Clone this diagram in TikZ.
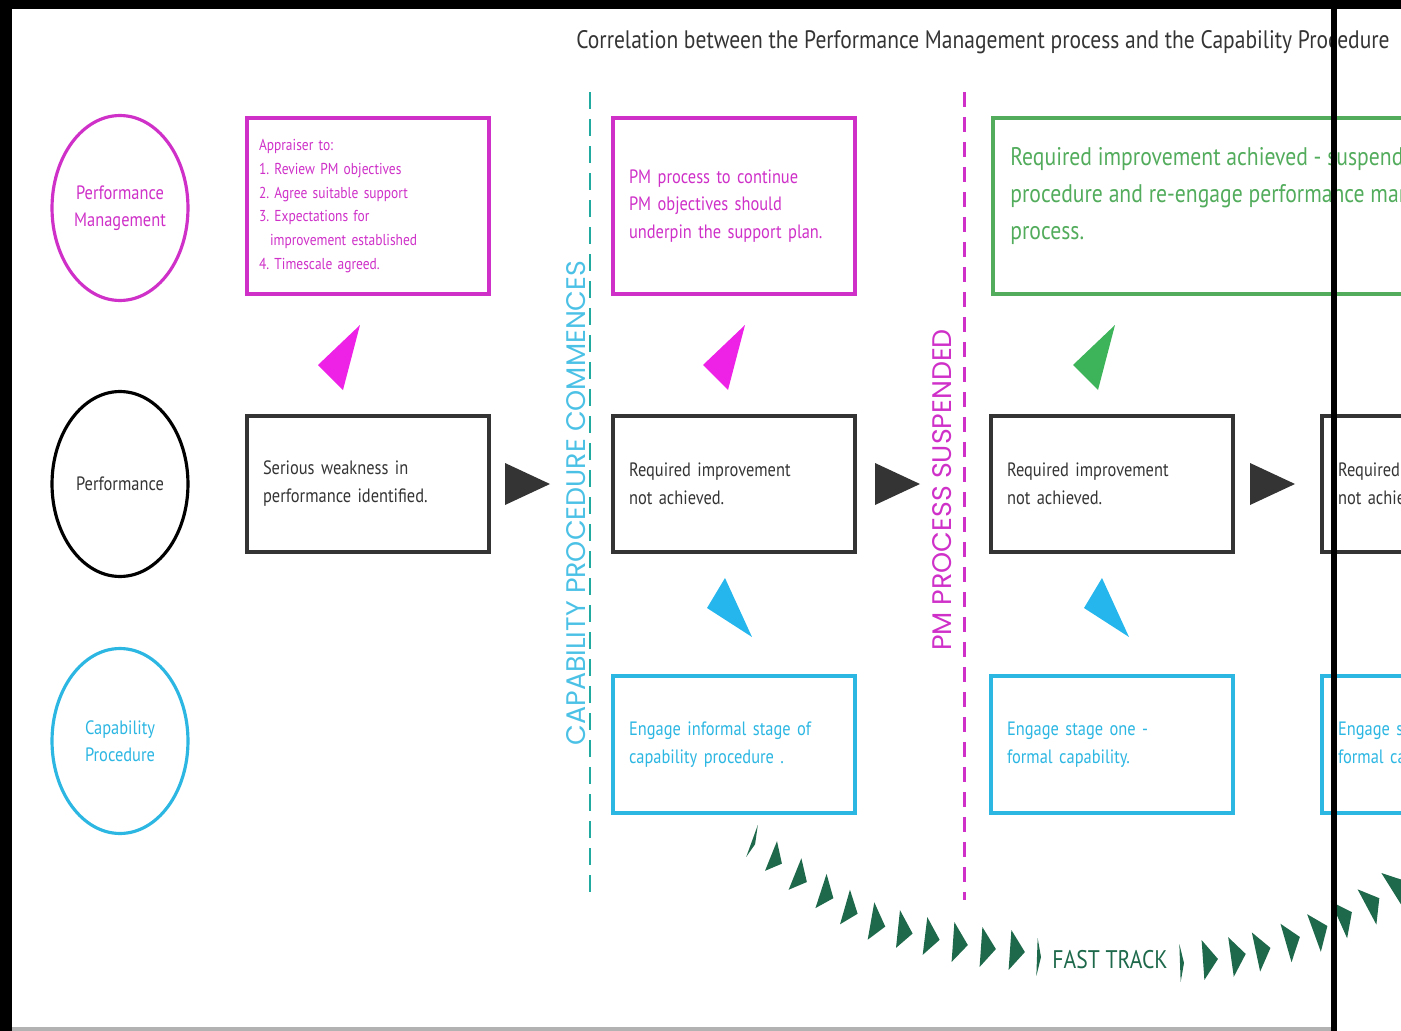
\documentclass[tikz,border=0pt]{standalone}
\usepackage{fontspec}
\setmainfont{PT Sans}[FakeStretch=0.85]
\newfontfamily\capsfont{Poppins}
\usepackage{xcolor}
\usetikzlibrary{positioning, shapes.geometric}
\definecolor{pmmag}{RGB}{206,48,200}
\definecolor{pmtri}{RGB}{238,34,230}
\definecolor{capcyan}{RGB}{44,182,226}
\definecolor{captri}{RGB}{36,182,236}
\definecolor{capteal}{RGB}{32,170,160}
\definecolor{okgreen}{RGB}{82,172,92}
\definecolor{oktri}{RGB}{62,180,90}
\definecolor{darkgrey}{RGB}{52,52,52}
\definecolor{ftgreen}{RGB}{30,105,75}
\tikzset{
    box/.style={draw, line width=2.2pt, text width=4.2cm, align=left, minimum width=4.84cm, inner sep=0pt, font=\fontsize{11}{15.9}\selectfont},
    pmbox/.style={box, draw=pmmag, text=pmmag, minimum height=3.52cm},
    perfbox/.style={box, draw=darkgrey, text=darkgrey, minimum height=2.72cm},
    capbox/.style={box, draw=capcyan, text=capcyan, minimum height=2.74cm},
    okbox/.style={draw=okgreen, line width=2.2pt, anchor=west, minimum width=8.6cm, minimum height=3.52cm, inner sep=0pt},
    oktext/.style={anchor=west, text=okgreen, align=left, inner sep=0pt, font=\fontsize{14.5}{21}\selectfont},
    rolecircle/.style={ellipse, line width=1.8pt, minimum width=2.72cm, minimum height=3.7cm, align=center, inner sep=0pt, font=\fontsize{11}{15.3}\selectfont},
    sidelabel/.style={rotate=90, font=\capsfont\fontsize{15.3}{15.3}\selectfont},
    divider/.style={line width=1.7pt},
}

\begin{document}
\frenchspacing
\begin{tikzpicture}[x=0.02cm, y=-0.02cm, on grid]
    \useasboundingbox (0,0) rectangle (1401,1031);
    \clip (0,0) rectangle (1401,1031);

    % Titolo
    \node[text=darkgrey, font=\fontsize{14.4}{16}\selectfont] (title) at (983,42) {Correlation between the Performance Management process and the Capability Procedure};

    % Cerchi
    \node[rolecircle, draw=pmmag, text=pmmag] (pm) at (120,208) {Performance\\Management};
    \node[rolecircle, draw=black, text=darkgrey] (perf) at (120,484) {Performance};
    \node[rolecircle, draw=capcyan, text=capcyan] (cap) at (120,741) {Capability\\Procedure};

    % Linee di separazione
    \draw[divider, capteal, dash pattern=on 0.34cm off 0.2cm] (590,92) -- (590,900);
    \node[sidelabel, text=capcyan!85] (commence) at (576,503) {CAPABILITY PROCEDURE COMMENCES};
    \draw[divider, pmmag, dash pattern=on 0.3cm off 0.2cm] (964,92) -- (964,900);
    \node[sidelabel, text=pmmag] (suspend) at (942,490) {PM PROCESS SUSPENDED};

    % Colonna 1
    \node[perfbox] (perf1) at (368,484) {Serious weakness in\\performance identified.};
    \node[pmbox, above=5.56cm of perf1, text width=4.36cm, font=\fontsize{9}{13.6}\selectfont] (pm1) {Appraiser to:\\1. Review PM objectives\\2. Agree suitable support\\3. Expectations for\\\hspace*{0.7em}improvement established\\4. Timescale agreed.};

    % Colonna 2
    \node[perfbox] (perf2) at (734,484) {Required improvement\\not achieved.};
    \node[pmbox, above=5.56cm of perf2] (pm2) {PM process to continue\\PM objectives should\\underpin the support plan.};
    \node[capbox, below=5.21cm of perf2] (cap2) {Engage informal stage of\\capability procedure .};

    % Colonna 3
    \node[perfbox] (perf3) at (1112,484) {Required improvement\\not achieved.};
    \node[okbox] (ok3) at (991,206) {};
    \node[oktext] (ok3text) at ([shift={(19,-10)}]ok3.west) {Required improvement achieved - suspend\\procedure and re-engage performance management\\process.};
    \node[capbox, below=5.21cm of perf3] (cap3) {Engage stage one -\\formal capability.};

    % Colonna 4
    \node[perfbox] (perf4) at (1443,484) {Required improvement\\not achieved.};
    \node[capbox, below=5.21cm of perf4] (cap4) {Engage stage two -\\formal capability.};

    % Frecce
    \foreach \x in {505,875,1250}
        \fill[darkgrey] (\x,463) -- (\x+45,484) -- (\x,505) -- cycle;
    \foreach \x in {360,745}
        \fill[pmtri] (\x,325) -- (\x-42,365) -- (\x-17,390) -- cycle;
    \fill[oktri] (1115,325) -- (1073,365) -- (1098,390) -- cycle;
    \foreach \x in {725,1102}
        \fill[captri] (\x,578) -- (\x-18,608) -- (\x+27,637) -- cycle;

    % Fast track
    \foreach \x/\y/\a/\h/\w/\t in {752/841/-20/17/4/2, 771/856/-22/16/13/3, 795/874/-22/17/14/3,
        821/891/-18/18/14/3, 845/907/-16/18/14/3, 871/921/-10/19/15/3, 898/929/-6/19/15/3,
        925/936/-7/19/15/2, 953/942/-4/20/15/2, 981/947/-4/20/15/1, 1010/950/-4/20/15/1, 1037/957/-2/19/4/0,
        1180/963/2/19/4/0, 1203/960/4/20/15/0, 1231/957/8/20/15/-1, 1256/952/12/20/15/-1,
        1286/943/16/20/15/-2, 1314/933/20/20/15/-2, 1339/920/24/20/15/-2, 1367/907/28/20/15/-2, 1392/890/32/20/15/-2}
        \fill[ftgreen, shift={(\x,\y)}, rotate=\a] (0,-\h) -- (\w,\t) -- (0,\h) -- cycle;
    \node[text=ftgreen, font=\fontsize{14.5}{15}\selectfont] (fasttrack) at (1110,960) {FAST TRACK};

    % Cornice
    \fill[black] (0,0) rectangle (12,1031);
    \fill[black] (0,0) rectangle (1401,9);
    \fill[gray!60] (12,1027) rectangle (1334,1031);
    \fill[black] (1331,0) rectangle (1337,1031);
\end{tikzpicture}
\end{document}
